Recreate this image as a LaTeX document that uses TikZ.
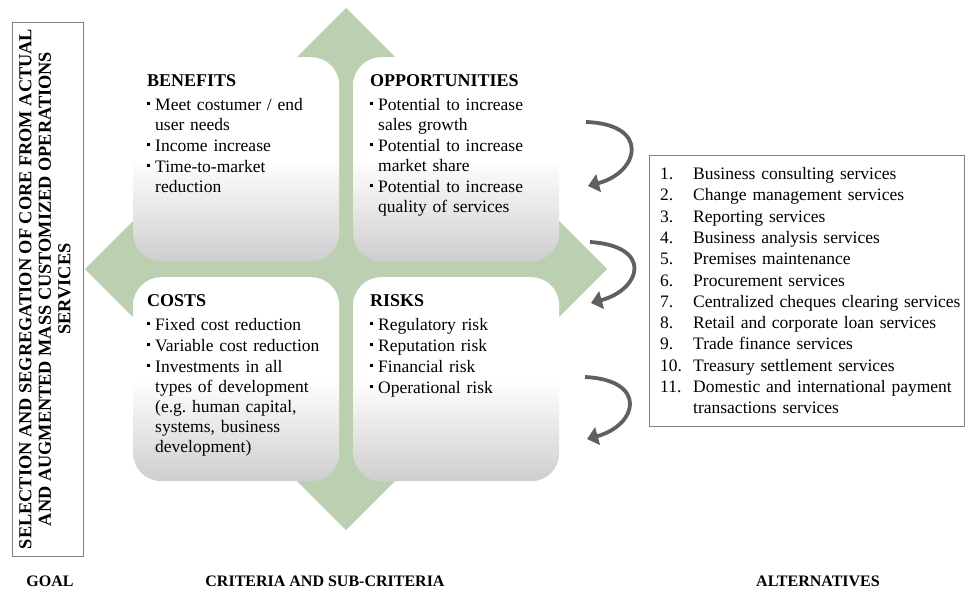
\documentclass[tikz,border=0pt]{standalone}
\usepackage{fontspec}
\setmainfont{Liberation Serif}
\usetikzlibrary{arrows.meta,positioning}

\definecolor{crossgreen}{RGB}{187,208,177}
\definecolor{boxgray}{RGB}{206,206,206}
\definecolor{arrowgray}{RGB}{96,96,96}
\definecolor{framegray}{RGB}{128,128,128}

% bullet item and numbered item
\newcommand{\bul}{\par\hangindent=8pt\hangafter=1\noindent\makebox[8pt][l]{\rule[5.5pt]{2.4pt}{2.4pt}}}
\newcommand{\boxhead}[1]{{\fontsize{18}{20}\selectfont\bfseries #1\par}\vspace{3pt}}
\newcommand{\altitem}[1]{\par\hangindent=33pt\hangafter=1\noindent\makebox[33pt][l]{#1}}

\tikzset{
  quadbox/.style={rounded corners=28pt, minimum width=206pt, minimum height=204pt,
    anchor=north west, inner sep=0pt, top color=white, bottom color=boxgray, middle color=white},
  quadtext/.style={anchor=north west, inner sep=0pt, text width=190pt, align=left,
    font=\fontsize{17.5}{20}\selectfont\setlength\parskip{1pt}},
  framebox/.style={draw=framegray, line width=1.2pt, anchor=north west, inner sep=0pt},
  footlabel/.style={font=\fontsize{16}{18}\selectfont\bfseries, inner sep=0pt},
  turnarrow/.style={draw=arrowgray, line width=3.8pt, -{Triangle[length=11pt,width=18pt]}}
}

\begin{document}
\begin{tikzpicture}[x=1pt,y=-1pt]
\useasboundingbox[fill=white] (0,0) rectangle (966,592);

% goal
\node[framebox, minimum width=71pt, minimum height=534pt] (goalbox) at (12,22) {};
\node[rotate=90, align=center, inner sep=0pt, font=\fontsize{18.3}{19.5}\selectfont\bfseries] (goaltxt) at (45,289)
  {SELECTION AND SEGREGATION OF CORE FROM ACTUAL\\AND AUGMENTED MASS CUSTOMIZED OPERATIONS\\SERVICES};

% green cross behind the matrix
\coordinate (dtop) at (346,8);
\coordinate (dright) at (607,269);
\coordinate (dbottom) at (346,530);
\coordinate (dleft) at (85,269);
\fill[crossgreen] (dtop) -- (dright) -- (dbottom) -- (dleft) -- cycle;

\node[quadbox] (benefits) at (133,57) {};
\node[quadbox] (opportunities) at (353,57) {};
\node[quadbox] (costs) at (133,277) {};
\node[quadbox] (risks) at (353,277) {};

\node[quadtext] (benefitstxt) at ([xshift=14pt,yshift=-17pt]benefits.north west) {%
  \boxhead{BENEFITS}
  \bul Meet costumer / end\newline user needs
  \bul Income increase
  \bul Time-to-market\newline reduction\par};
\node[quadtext] (opportunitiestxt) at ([xshift=17pt,yshift=-17pt]opportunities.north west) {%
  \boxhead{OPPORTUNITIES}
  \bul Potential to increase\newline sales growth
  \bul Potential to increase\newline market share
  \bul Potential to increase\newline quality of services\par};
\node[quadtext] (coststxt) at ([xshift=14pt,yshift=-17pt]costs.north west) {%
  \boxhead{COSTS}
  \bul Fixed cost reduction
  \bul Variable cost reduction
  \bul Investments in all\newline types of development\newline (e.g.\ human capital,\newline systems, business\newline development)\par};
\node[quadtext] (riskstxt) at ([xshift=17pt,yshift=-17pt]risks.north west) {%
  \boxhead{RISKS}
  \bul Regulatory risk
  \bul Reputation risk
  \bul Financial risk
  \bul Operational risk\par};

% curved arrows
\coordinate (arrowAs) at (586,122);
\coordinate (arrowAe) at (588,186);
\coordinate (arrowBs) at (590,242);
\coordinate (arrowBe) at (591,303);
\coordinate (arrowCs) at (585,377);
\coordinate (arrowCe) at (587,439);
\draw[turnarrow] (arrowAs) .. controls (650,124) and (640,172) .. (arrowAe);
\draw[turnarrow] (arrowBs) .. controls (653,246) and (642,289) .. (arrowBe);
\draw[turnarrow] (arrowCs) .. controls (648,380) and (638,425) .. (arrowCe);

% alternatives
\node[framebox, minimum width=315pt, minimum height=271pt] (altbox) at (649,155) {};
\node[quadtext, text width=312pt, font=\fontsize{17.5}{21.3}\selectfont] (alttxt) at ([xshift=11pt,yshift=-3pt]altbox.north west) {%
  \altitem{1.}Business consulting services
  \altitem{2.}Change management services
  \altitem{3.}Reporting services
  \altitem{4.}Business analysis services
  \altitem{5.}Premises maintenance
  \altitem{6.}Procurement services
  \altitem{7.}Centralized cheques clearing services
  \altitem{8.}Retail and corporate loan services
  \altitem{9.}Trade finance  services
  \altitem{10.}Treasury settlement services
  \altitem{11.}Domestic and international payment\newline transactions services\par};

% bottom labels
\node[footlabel] (goallbl) at (50,581) {GOAL};
\node[footlabel] (criterialbl) at (325,581) {CRITERIA AND SUB-CRITERIA};
\node[footlabel] (altlbl) at (818,581) {ALTERNATIVES};
\end{tikzpicture}
\end{document}
